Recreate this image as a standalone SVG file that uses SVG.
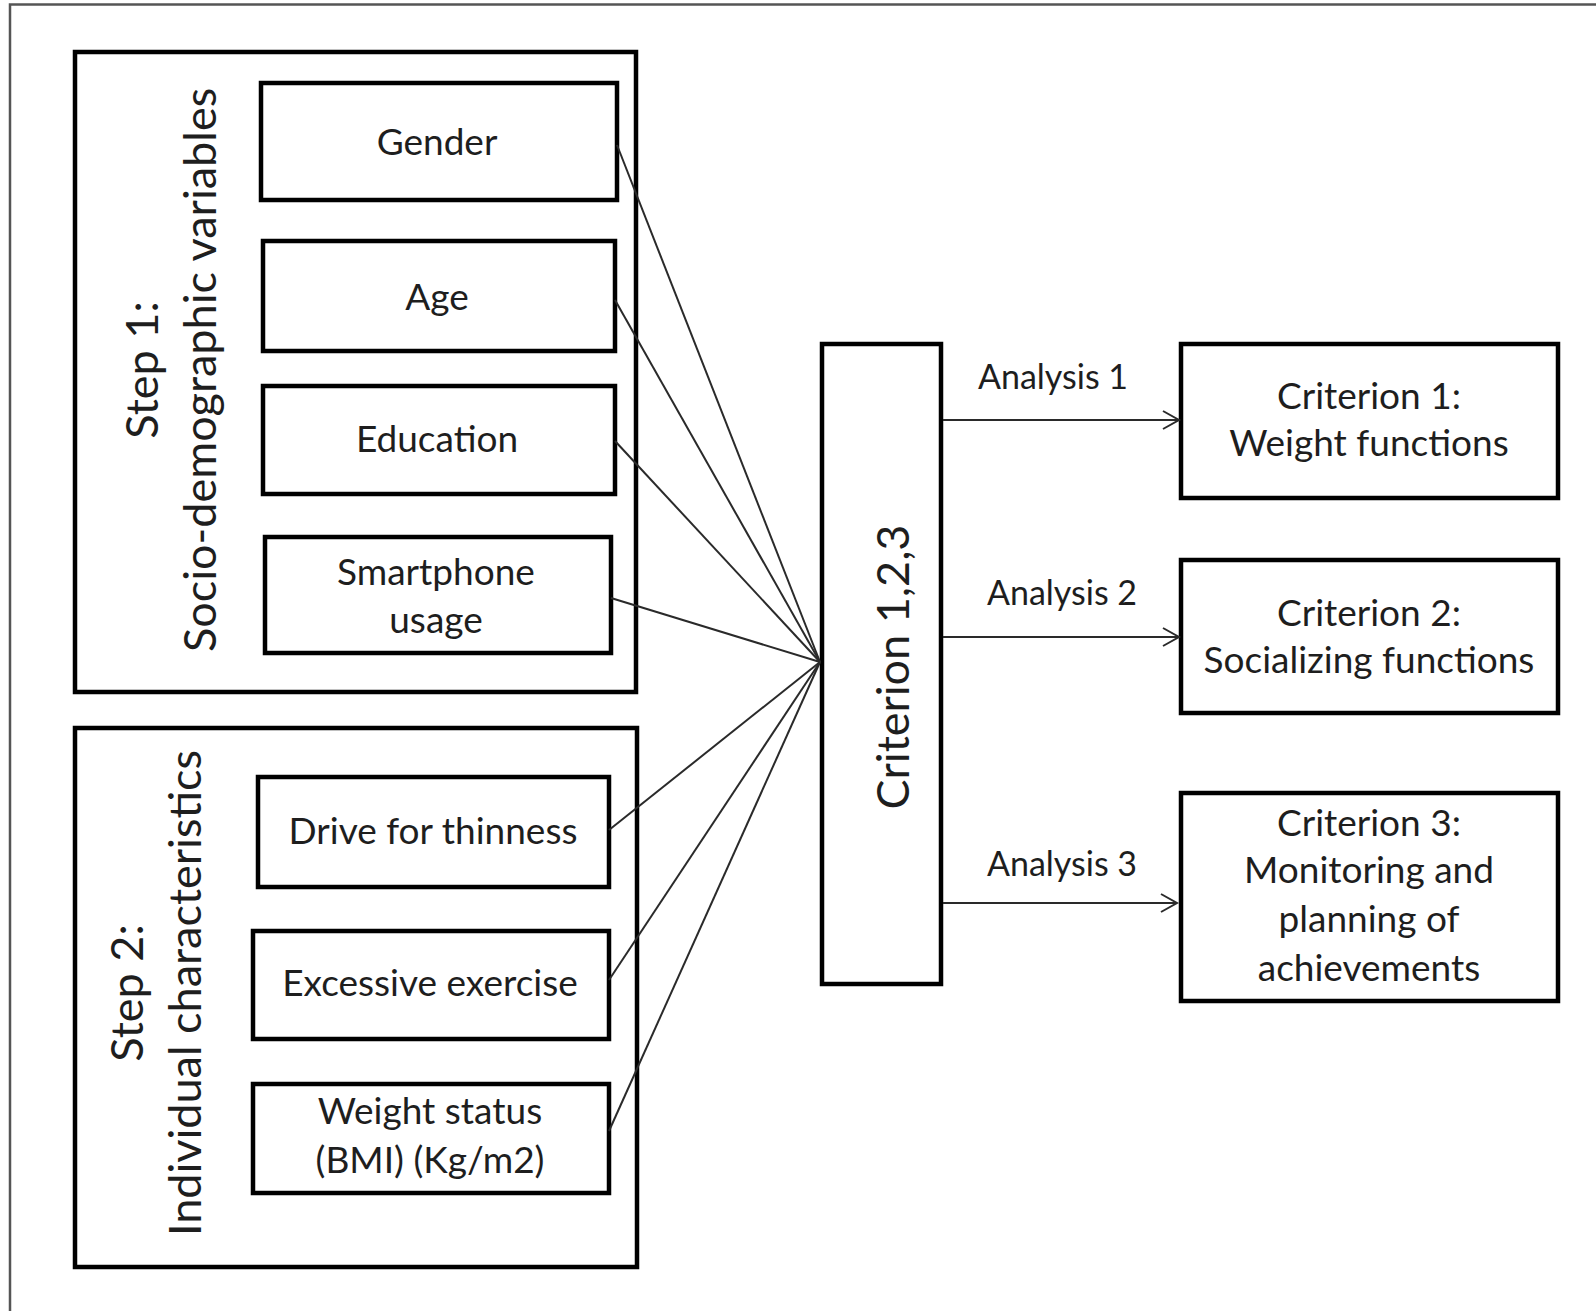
<svg xmlns="http://www.w3.org/2000/svg" width="1596" height="1311" viewBox="0 0 1596 1311">
<style>
  .box { fill: #fff; stroke: #000; stroke-width: 4.5; }
  .t { font-family: Lato, "Liberation Sans", sans-serif; font-size: 37px; fill: #1e1e1e; text-anchor: middle; }
  .lbl { font-family: Lato, "Liberation Sans", sans-serif; font-size: 34px; fill: #1e1e1e; text-anchor: middle; }
  .big { font-family: Lato, "Liberation Sans", sans-serif; font-size: 45px; fill: #1e1e1e; text-anchor: middle; }
  .con { stroke: #2a2a2a; stroke-width: 2; fill: none; }
  .page { stroke: #555; stroke-width: 2.5; fill: none; }
</style>
<defs>
  <marker id="arr" markerWidth="20" markerHeight="20" refX="17" refY="10" orient="auto" markerUnits="userSpaceOnUse">
    <path d="M1,1 L17,10 L1,19" fill="none" stroke="#2a2a2a" stroke-width="2"/>
  </marker>
</defs>
<rect width="1596" height="1311" fill="#fff"/>
<path class="page" d="M10,1311 V4.5 H1596"/>

<g id="step1">
  <rect class="box" x="75" y="52" width="561" height="640"/>
  <text class="big" transform="translate(158,370) rotate(-90)">Step 1:</text>
  <text class="big" transform="translate(216,370) rotate(-90)">Socio-demographic variables</text>
</g>
<g id="gender">
  <rect class="box" x="261" y="83" width="356" height="117"/>
  <text class="t" x="437" y="155">Gender</text>
</g>
<g id="age">
  <rect class="box" x="263" y="241" width="352" height="110"/>
  <text class="t" x="437" y="310">Age</text>
</g>
<g id="education">
  <rect class="box" x="263" y="386" width="352" height="108"/>
  <text class="t" x="437" y="452">Education</text>
</g>
<g id="smartphone">
  <rect class="box" x="265" y="537" width="346" height="116"/>
  <text class="t" x="436" y="585">Smartphone</text>
  <text class="t" x="436" y="633">usage</text>
</g>

<g id="step2">
  <rect class="box" x="75" y="728" width="562" height="539"/>
  <text class="big" transform="translate(143,993) rotate(-90)">Step 2:</text>
  <text class="big" transform="translate(201,993) rotate(-90)">Individual characteristics</text>
</g>
<g id="drive">
  <rect class="box" x="258" y="777" width="351" height="110"/>
  <text class="t" x="433" y="844">Drive for thinness</text>
</g>
<g id="exercise">
  <rect class="box" x="253" y="931" width="356" height="108"/>
  <text class="t" x="430" y="996">Excessive exercise</text>
</g>
<g id="weight">
  <rect class="box" x="253" y="1084" width="356" height="109"/>
  <text class="t" x="430" y="1124">Weight status</text>
  <text class="t" x="430" y="1173">(BMI) (Kg/m2)</text>
</g>

<g id="criterion123">
  <rect class="box" x="822" y="344" width="119" height="640"/>
  <text class="big" transform="translate(909,667) rotate(-90)">Criterion 1,2,3</text>
</g>
<g id="criterion1">
  <rect class="box" x="1181" y="344" width="377" height="154"/>
  <text class="t" x="1369" y="409">Criterion 1:</text>
  <text class="t" x="1369" y="456">Weight functions</text>
</g>
<g id="criterion2">
  <rect class="box" x="1181" y="560" width="377" height="153"/>
  <text class="t" x="1369" y="626">Criterion 2:</text>
  <text class="t" x="1369" y="673">Socializing functions</text>
</g>
<g id="criterion3">
  <rect class="box" x="1181" y="793" width="377" height="208"/>
  <text class="t" x="1369" y="836">Criterion 3:</text>
  <text class="t" x="1369" y="883">Monitoring and</text>
  <text class="t" x="1369" y="932">planning of</text>
  <text class="t" x="1369" y="981">achievements</text>
</g>

<g id="connectors">
  <line class="con" x1="617" y1="145" x2="820" y2="662"/>
  <line class="con" x1="615" y1="300" x2="820" y2="662"/>
  <line class="con" x1="615" y1="441" x2="820" y2="662"/>
  <line class="con" x1="611" y1="598" x2="820" y2="662"/>
  <line class="con" x1="609" y1="830" x2="820" y2="662"/>
  <line class="con" x1="609" y1="980" x2="820" y2="662"/>
  <line class="con" x1="609" y1="1131" x2="820" y2="662"/>
  <line class="con" x1="943" y1="420" x2="1179" y2="420" marker-end="url(#arr)"/>
  <line class="con" x1="943" y1="637" x2="1179" y2="637" marker-end="url(#arr)"/>
  <line class="con" x1="943" y1="903" x2="1177" y2="903" marker-end="url(#arr)"/>
  <text class="lbl" x="1053" y="389">Analysis 1</text>
  <text class="lbl" x="1062" y="605">Analysis 2</text>
  <text class="lbl" x="1062" y="876">Analysis 3</text>
</g>
</svg>
